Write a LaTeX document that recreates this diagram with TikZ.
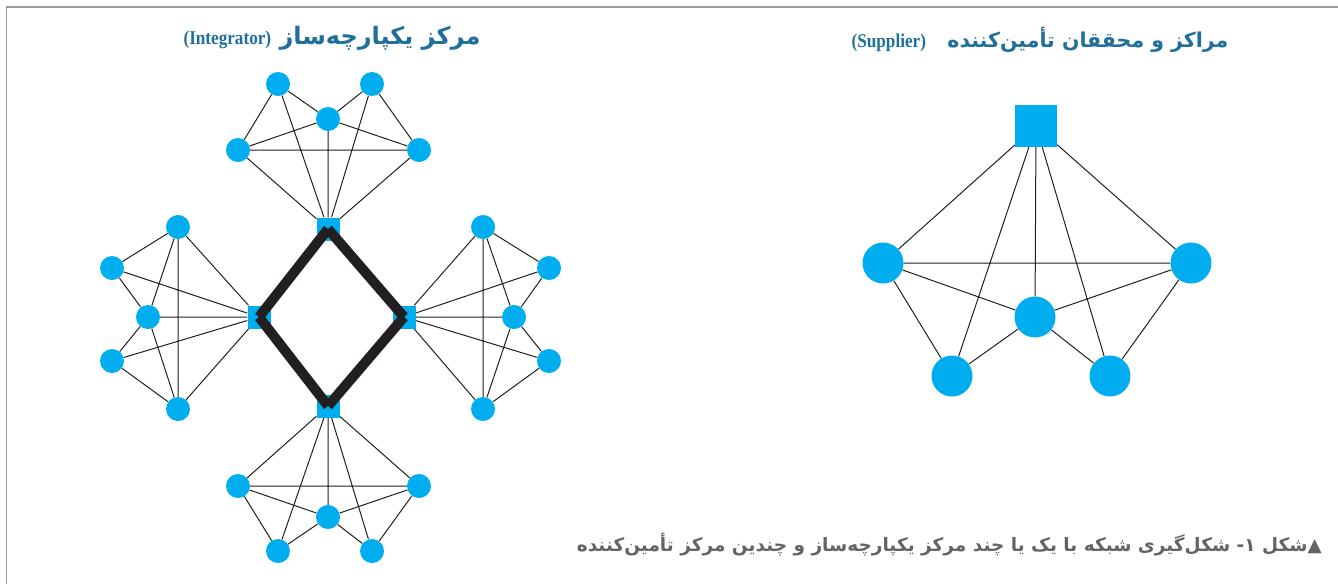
\documentclass[tikz,border=0pt]{standalone}
\usepackage{fontspec}
\setmainfont{Liberation Serif}
\newfontfamily\arabicfont[Script=Arabic]{DejaVu Sans}
\TeXXeTstate=1
\usetikzlibrary{backgrounds}
\definecolor{cy}{HTML}{00AEEF}
\definecolor{ttl}{HTML}{1F6E9C}
\definecolor{cap}{HTML}{636466}
\definecolor{frm}{HTML}{9A9A9A}
\definecolor{blk}{HTML}{231F20}
\newcommand{\latinpart}[1]{\beginL\scalebox{0.88}[1]{\rmfamily\bfseries\fontsize{19.5}{22}\selectfont #1}\endL}
\tikzset{
  hub/.style={rectangle, fill=cy, minimum size=23pt, inner sep=0pt},
  nd/.style={circle, fill=cy, minimum size=24pt, inner sep=0pt},
  bignd/.style={circle, fill=cy, minimum size=41pt, inner sep=0pt},
  sqbig/.style={rectangle, fill=cy, minimum size=42pt, inner sep=0pt},
  edge/.style={draw=blk, line width=1pt},
  thickedge/.style={draw=blk, line width=10pt, line cap=butt},
  titletext/.style={text=ttl, inner sep=0pt},
  captext/.style={text=cap, font=\arabicfont\bfseries\fontsize{18.5}{22}\selectfont, inner sep=0pt}
}
\begin{document}
\begin{tikzpicture}[x=1pt,y=-1pt]
\useasboundingbox (0,0) rectangle (1338,584);
% frame
\coordinate (f1) at (1338,7);
\coordinate (f2) at (6.5,7);
\coordinate (f3) at (6.5,584);
\draw[frm, line width=1.6pt] (f1) -- (f2) -- (f3);

% titles
\node[titletext, font=\arabicfont\bfseries\fontsize{24}{28}\selectfont] (t1) at (332,38) {\beginR مرکز یکپارچه‌ساز \latinpart{(Integrator)}\endR};
\node[titletext, font=\arabicfont\bfseries\fontsize{20.5}{24}\selectfont] (t2) at (1040,40) {\beginR مراکز و محققان تأمین‌کننده \ \ \latinpart{(Supplier)}\endR};
\node[captext, anchor=east] (cp) at (1322,545) {\beginR ▲شکل ۱- شکل‌گیری شبکه با یک یا چند مرکز یکپارچه‌ساز و چندین مرکز تأمین‌کننده\endR};

% hubs
\node[hub] (ht) at (328,229) {};
\node[hub] (hl) at (259,317) {};
\node[hub] (hr) at (404,317) {};
\node[hub] (hb) at (328,406) {};

% top cluster
\node[nd] (a1) at (278,84) {};
\node[nd] (a2) at (372,84) {};
\node[nd] (a3) at (328,119) {};
\node[nd] (a4) at (238,150) {};
\node[nd] (a5) at (419,150) {};
% bottom cluster
\node[nd] (b1) at (238,486) {};
\node[nd] (b2) at (419,486) {};
\node[nd] (b3) at (328,517) {};
\node[nd] (b4) at (278,551) {};
\node[nd] (b5) at (372,551) {};
% left cluster
\node[nd] (l1) at (178,227) {};
\node[nd] (l2) at (112,268) {};
\node[nd] (l3) at (148,317) {};
\node[nd] (l4) at (112,361) {};
\node[nd] (l5) at (178,409) {};
% right cluster
\node[nd] (r1) at (483,227) {};
\node[nd] (r2) at (549,268) {};
\node[nd] (r3) at (514,317) {};
\node[nd] (r4) at (549,361) {};
\node[nd] (r5) at (483,409) {};

% supplier
\node[sqbig] (s0) at (1036,126) {};
\node[bignd] (s1) at (883,263) {};
\node[bignd] (s2) at (1191,263) {};
\node[bignd] (s3) at (1035,317) {};
\node[bignd] (s4) at (952,376) {};
\node[bignd] (s5) at (1110,376) {};

\begin{scope}[on background layer]
  \draw[edge] (a1)--(a3) (a1)--(a4) (a1)--(ht) (a2)--(a3) (a2)--(a5) (a2)--(ht)
              (a3)--(a4) (a3)--(a5) (a3)--(ht) (a4)--(a5) (a4)--(ht) (a5)--(ht);
  \draw[edge] (b1)--(b3) (b1)--(b4) (b1)--(hb) (b2)--(b3) (b2)--(b5) (b2)--(hb)
              (b3)--(b4) (b3)--(b5) (b3)--(hb) (b1)--(b2) (b4)--(hb) (b5)--(hb);
  \draw[edge] (l1)--(l2) (l1)--(l3) (l1)--(l5) (l1)--(hl) (l2)--(l3) (l2)--(hl)
              (l3)--(hl) (l3)--(l4) (l3)--(l5) (l4)--(hl) (l4)--(l5) (l5)--(hl);
  \draw[edge] (r1)--(r2) (r1)--(r3) (r1)--(r5) (r1)--(hr) (r2)--(r3) (r2)--(hr)
              (r3)--(hr) (r3)--(r4) (r3)--(r5) (r4)--(hr) (r4)--(r5) (r5)--(hr);
  \draw[edge] (s0)--(s1) (s0)--(s2) (s0)--(s3) (s0)--(s4) (s0)--(s5)
              (s1)--(s2) (s1)--(s3) (s1)--(s4) (s2)--(s3) (s2)--(s5) (s3)--(s4) (s3)--(s5);
\end{scope}

% thick diamond
\draw[thickedge] (ht.center)--(hl.center);
\draw[thickedge] (ht.center)--(hr.center);
\draw[thickedge] (hb.center)--(hl.center);
\draw[thickedge] (hb.center)--(hr.center);
\end{tikzpicture}
\end{document}
